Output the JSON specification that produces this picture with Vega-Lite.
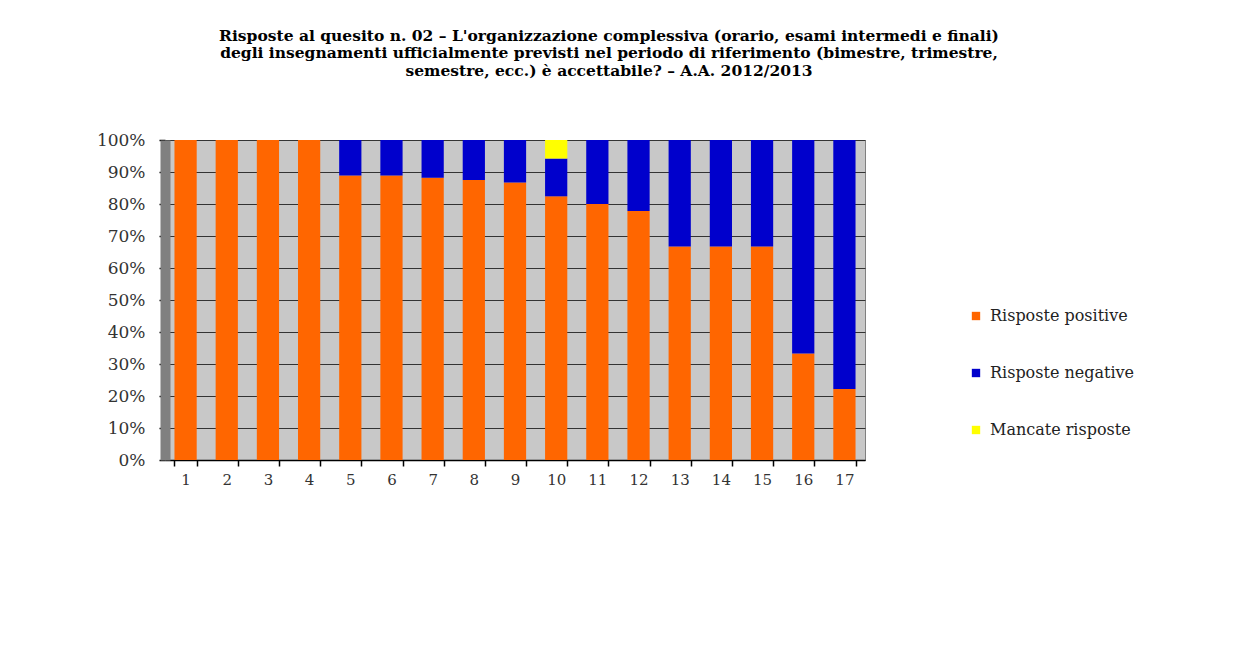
{
  "$schema": "https://vega.github.io/schema/vega-lite/v6.json",
  "autosize": "none",
  "width": 700,
  "height": 320,
  "padding": {"left": 165, "top": 140, "right": 393, "bottom": 212},
  "background": "white",
  "title": {
    "text": [
      "Risposte al quesito n. 02 – L'organizzazione complessiva (orario, esami intermedi e finali)",
      "degli insegnamenti ufficialmente previsti nel periodo di riferimento (bimestre, trimestre,",
      "semestre, ecc.) è accettabile? – A.A. 2012/2013"
    ],
    "anchor": "middle",
    "dx": 94,
    "offset": 52,
    "font": "DejaVu Serif",
    "fontSize": 15.5,
    "fontWeight": "bold",
    "lineHeight": 17.5,
    "color": "black"
  },
  "data": {
    "values": [
      {"c": 1, "t": "Risposte positive", "o": 1, "v": 100},
      {"c": 2, "t": "Risposte positive", "o": 1, "v": 100},
      {"c": 3, "t": "Risposte positive", "o": 1, "v": 100},
      {"c": 4, "t": "Risposte positive", "o": 1, "v": 100},
      {"c": 5, "t": "Risposte positive", "o": 1, "v": 88.9},
      {"c": 5, "t": "Risposte negative", "o": 2, "v": 11.1},
      {"c": 6, "t": "Risposte positive", "o": 1, "v": 88.9},
      {"c": 6, "t": "Risposte negative", "o": 2, "v": 11.1},
      {"c": 7, "t": "Risposte positive", "o": 1, "v": 88.2},
      {"c": 7, "t": "Risposte negative", "o": 2, "v": 11.8},
      {"c": 8, "t": "Risposte positive", "o": 1, "v": 87.5},
      {"c": 8, "t": "Risposte negative", "o": 2, "v": 12.5},
      {"c": 9, "t": "Risposte positive", "o": 1, "v": 86.7},
      {"c": 9, "t": "Risposte negative", "o": 2, "v": 13.3},
      {"c": 10, "t": "Risposte positive", "o": 1, "v": 82.4},
      {"c": 10, "t": "Risposte negative", "o": 2, "v": 11.8},
      {"c": 10, "t": "Mancate risposte", "o": 3, "v": 5.8},
      {"c": 11, "t": "Risposte positive", "o": 1, "v": 80},
      {"c": 11, "t": "Risposte negative", "o": 2, "v": 20},
      {"c": 12, "t": "Risposte positive", "o": 1, "v": 77.8},
      {"c": 12, "t": "Risposte negative", "o": 2, "v": 22.2},
      {"c": 13, "t": "Risposte positive", "o": 1, "v": 66.7},
      {"c": 13, "t": "Risposte negative", "o": 2, "v": 33.3},
      {"c": 14, "t": "Risposte positive", "o": 1, "v": 66.7},
      {"c": 14, "t": "Risposte negative", "o": 2, "v": 33.3},
      {"c": 15, "t": "Risposte positive", "o": 1, "v": 66.7},
      {"c": 15, "t": "Risposte negative", "o": 2, "v": 33.3},
      {"c": 16, "t": "Risposte positive", "o": 1, "v": 33.3},
      {"c": 16, "t": "Risposte negative", "o": 2, "v": 66.7},
      {"c": 17, "t": "Risposte positive", "o": 1, "v": 22.2},
      {"c": 17, "t": "Risposte negative", "o": 2, "v": 77.8}
    ]
  },
  "mark": {"type": "bar", "stroke": null},
  "encoding": {
    "x": {
      "field": "c",
      "type": "ordinal",
      "title": null,
      "scale": {"paddingInner": 0.46, "paddingOuter": 0.23},
      "axis": {
        "labelAngle": 0,
        "labelFont": "DejaVu Serif",
        "labelFontSize": 15,
        "labelColor": "#333333",
        "labelPadding": 6,
        "tickColor": "black",
        "tickSize": 6,
        "tickWidth": 1.5,
        "tickBand": "extent",
        "domainColor": "black",
        "domainWidth": 1.5
      }
    },
    "y": {
      "field": "v",
      "type": "quantitative",
      "stack": "zero",
      "title": null,
      "scale": {"domain": [0, 100], "nice": false},
      "axis": {
        "values": [0, 10, 20, 30, 40, 50, 60, 70, 80, 90, 100],
        "labelExpr": "datum.value + '%'",
        "labelFont": "DejaVu Serif",
        "labelFontSize": 17,
        "labelColor": "#333333",
        "labelPadding": 14,
        "tickColor": "black",
        "tickSize": 6,
        "tickWidth": 1.5,
        "domainColor": "#808080",
        "domainWidth": 10,
        "grid": true,
        "gridColor": "#333333",
        "gridWidth": 1.2
      }
    },
    "color": {
      "field": "t",
      "type": "nominal",
      "scale": {
        "domain": ["Risposte positive", "Risposte negative", "Mancate risposte"],
        "range": ["#ff6600", "#0000cc", "#ffff00"]
      },
      "legend": {
        "title": null,
        "orient": "none",
        "legendX": 803,
        "legendY": 168,
        "symbolType": "square",
        "symbolSize": 70,
        "symbolStrokeWidth": 0,
        "labelFont": "DejaVu Serif",
        "labelFontSize": 16,
        "labelColor": "#222222",
        "rowPadding": 41,
        "labelOffset": 6
      }
    },
    "order": {"field": "o", "type": "quantitative"}
  },
  "config": {
    "view": {"fill": "#c8c8c8", "stroke": "#808080", "strokeWidth": 1}
  }
}
